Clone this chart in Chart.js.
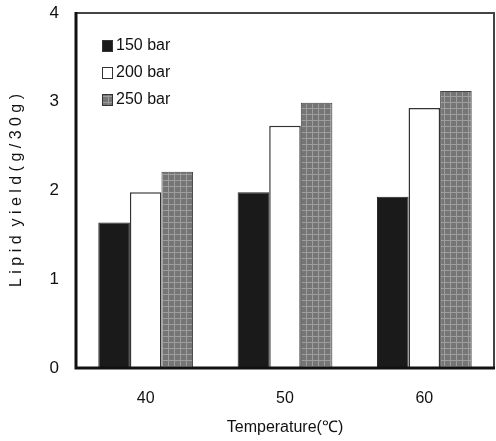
<!DOCTYPE html>
<html>
<head>
<meta charset="UTF-8">
<title>Lipid yield</title>
<script src="https://cdn.jsdelivr.net/npm/chart.js"></script>
<style>
  body { margin: 0; background: #fff; }
  #wrap { width: 496px; height: 441px; }
</style>
</head>
<body>
<div id="wrap"><canvas id="grafico" width="496" height="441"></canvas></div>
<script>
var temperaturas = ['40', '50', '60'];
var serie150 = [1.64, 1.98, 1.93];
var serie200 = [1.98, 2.73, 2.93];
var serie250 = [2.21, 2.99, 3.12];
var nomesSeries = ['150 bar', '200 bar', '250 bar'];
var ticksY = [0, 1, 2, 3, 4];

// padrao xadrez cinza da serie de 250 bar
function criarPadrao() {
    var c = document.createElement('canvas');
    c.width = 6; c.height = 6;
    var g = c.getContext('2d');
    g.fillStyle = '#757575';
    g.fillRect(0, 0, 6, 6);
    g.fillStyle = '#9e9e9e';
    g.fillRect(0, 0, 6, 1);
    g.fillRect(0, 0, 1, 6);
    return document.getElementById('grafico').getContext('2d').createPattern(c, 'repeat');
}
var padrao = criarPadrao();
var fonte = '"Liberation Sans", Arial, sans-serif';

var legendaInterna = {
    id: 'legendaInterna',
    afterDraw: function(chart) {
        var ctx = chart.ctx;
        var area = chart.chartArea;
        ctx.save();
        // moldura
        ctx.strokeStyle = '#444';
        ctx.lineWidth = 2;
        ctx.beginPath();
        ctx.moveTo(area.left, area.top);
        ctx.lineTo(area.right, area.top);
        ctx.lineTo(area.right, area.bottom);
        ctx.stroke();
        ctx.strokeStyle = '#111';
        ctx.lineWidth = 3;
        ctx.beginPath();
        ctx.moveTo(area.left, area.top - 1);
        ctx.lineTo(area.left, area.bottom);
        ctx.lineTo(area.right + 1, area.bottom);
        ctx.stroke();
        // legenda
        ctx.font = '16px ' + fonte;
        ctx.textBaseline = 'middle';
        chart.data.datasets.forEach(function(ds, i) {
            var y = 46 + i * 27;
            var x = 102;
            ctx.fillStyle = ds.backgroundColor;
            ctx.fillRect(x, y - 6, 11, 12);
            ctx.strokeStyle = '#333';
            ctx.lineWidth = 1;
            ctx.strokeRect(x + 0.5, y - 5.5, 10, 11);
            ctx.fillStyle = '#111';
            ctx.fillText(ds.label, x + 14, y);
        });
        ctx.restore();
    }
};

new Chart(document.getElementById('grafico'), {
    type: 'bar',
    data: {
        labels: temperaturas,
        datasets: [{
            label: nomesSeries[0],
            data: serie150,
            backgroundColor: '#1a1a1a',
            borderColor: '#222',
            borderWidth: 1
        }, {
            label: nomesSeries[1],
            data: serie200,
            backgroundColor: '#ffffff',
            borderColor: '#333',
            borderWidth: 1.5
        }, {
            label: nomesSeries[2],
            data: serie250,
            backgroundColor: padrao,
            borderColor: '#444',
            borderWidth: 1
        }]
    },
    options: {
        responsive: false,
        animation: false,
        layout: { padding: { top: 13, right: 2, left: 0, bottom: 0 } },
        plugins: {
            legend: { display: false },
            tooltip: { enabled: false }
        },
        datasets: {
            bar: { categoryPercentage: 0.68, barPercentage: 1.0 }
        },
        scales: {
            x: {
                grid: { display: false, drawTicks: false },
                border: { display: false },
                ticks: { color: '#111', font: { size: 16, family: fonte }, padding: 21 },
                title: { display: true, text: 'Temperature(℃)', color: '#111', font: { size: 16, family: fonte }, padding: { top: 4 } },
                afterFit: function(scale) {
                    scale.height = 73;
                    scale.paddingLeft = 0;
                    scale.paddingRight = 0;
                }
            },
            y: {
                min: 0,
                max: 4,
                afterBuildTicks: function(scale) {
                    scale.ticks = ticksY.map(function(v) { return { value: v }; });
                },
                grid: { display: false, drawTicks: false },
                border: { display: false },
                ticks: { color: '#111', font: { size: 17, family: fonte }, padding: 17 },
                title: { display: true, text: 'L i p i d  y i e l d ( g / 3 0 g )', color: '#111', font: { size: 16, family: fonte }, padding: { top: 7, bottom: 2 } },
                afterFit: function(scale) {
                    scale.width = 76;
                    scale.paddingTop = 0;
                    scale.paddingBottom = 0;
                }
            }
        }
    },
    plugins: [legendaInterna]
});
</script>
</body>
</html>
